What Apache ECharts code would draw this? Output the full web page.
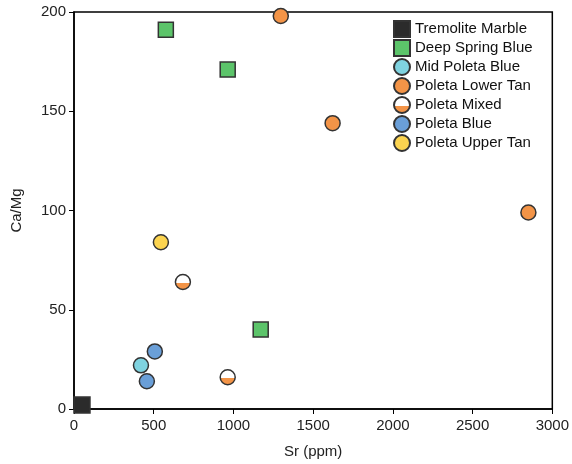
<!DOCTYPE html>
<html>
<head>
<meta charset="utf-8">
<script src="https://cdn.jsdelivr.net/npm/echarts@6/dist/echarts.min.js"></script>
<style>
  html, body { margin: 0; padding: 0; background: #fff; }
  #chart { width: 572px; height: 464px; }
</style>
</head>
<body>
<div id="chart"></div>
<script>
  // data: [Sr (ppm), Ca/Mg]
  var tremoliteMarble = [[50, 2]];
  var deepSpringBlue = [[576, 191], [964, 171], [1171, 40]];
  var midPoletaBlue = [[420, 22]];
  var poletaLowerTan = [[1297, 198], [1622, 144], [2850, 99]];
  var poletaMixed = [[683, 64], [964, 16]];
  var poletaBlue = [[507, 29], [457, 14]];
  var poletaUpperTan = [[545, 84]];

  var xTicks = [0, 500, 1000, 1500, 2000, 2500, 3000];
  var yTicks = [0, 50, 100, 150, 200];

  var font = 'Liberation Sans, Arial, sans-serif';
  var edge = '#333333';
  var orange = '#f39447';

  var halfFill = {
    type: 'linear', x: 0, y: 0, x2: 0, y2: 1,
    colorStops: [
      { offset: 0, color: '#ffffff' },
      { offset: 0.55, color: '#ffffff' },
      { offset: 0.55, color: orange },
      { offset: 1, color: orange }
    ]
  };

  function series(name, data, symbol, size, fill) {
    return {
      name: name,
      type: 'scatter',
      data: data,
      symbol: symbol,
      symbolSize: size,
      itemStyle: { color: fill, borderColor: edge, borderWidth: 1.5, opacity: 1 }
    };
  }

  var myChart = echarts.init(document.getElementById('chart'));
  var option = {
    animation: false,
    textStyle: { fontFamily: font },
    grid: { left: 74, right: 19, top: 12, bottom: 54, show: true, borderColor: '#000', borderWidth: 1.5 },
    legend: {
      orient: 'vertical',
      left: 388,
      top: 15,
      itemWidth: 16,
      itemHeight: 16,
      itemGap: 1,
      textStyle: { fontSize: 15, lineHeight: 16, color: '#111', fontFamily: font },
      data: ['Tremolite Marble', 'Deep Spring Blue', 'Mid Poleta Blue', 'Poleta Lower Tan',
             'Poleta Mixed', 'Poleta Blue', 'Poleta Upper Tan']
    },
    xAxis: {
      type: 'value',
      min: xTicks[0],
      max: xTicks[xTicks.length - 1],
      interval: 500,
      name: 'Sr (ppm)',
      nameLocation: 'middle',
      nameGap: 35,
      nameTextStyle: { fontSize: 15, color: '#222' },
      axisLine: { lineStyle: { color: '#000', width: 1.5 } },
      axisTick: { show: true, length: 5, lineStyle: { color: '#000' } },
      axisLabel: { fontSize: 15, color: '#222', margin: 9, formatter: function (v) { return String(v); } },
      splitLine: { show: false }
    },
    yAxis: {
      type: 'value',
      min: yTicks[0],
      max: yTicks[yTicks.length - 1],
      interval: 50,
      name: 'Ca/Mg',
      nameLocation: 'middle',
      nameGap: 50,
      nameTextStyle: { fontSize: 15, color: '#222' },
      axisLine: { lineStyle: { color: '#000', width: 1.5 } },
      axisTick: { show: true, length: 5, lineStyle: { color: '#000' } },
      axisLabel: { fontSize: 15, color: '#222', margin: 8 },
      splitLine: { show: false }
    },
    series: [
      series('Tremolite Marble', tremoliteMarble, 'rect', 16, '#2b2b2b'),
      series('Deep Spring Blue', deepSpringBlue, 'rect', 15, '#5cc46a'),
      series('Mid Poleta Blue', midPoletaBlue, 'circle', 15, '#7fd3e0'),
      series('Poleta Lower Tan', poletaLowerTan, 'circle', 15, orange),
      series('Poleta Mixed', poletaMixed, 'circle', 15, halfFill),
      series('Poleta Blue', poletaBlue, 'circle', 15, '#6a9fd8'),
      series('Poleta Upper Tan', poletaUpperTan, 'circle', 15, '#fcd450')
    ]
  };
  myChart.setOption(option);
</script>
</body>
</html>
